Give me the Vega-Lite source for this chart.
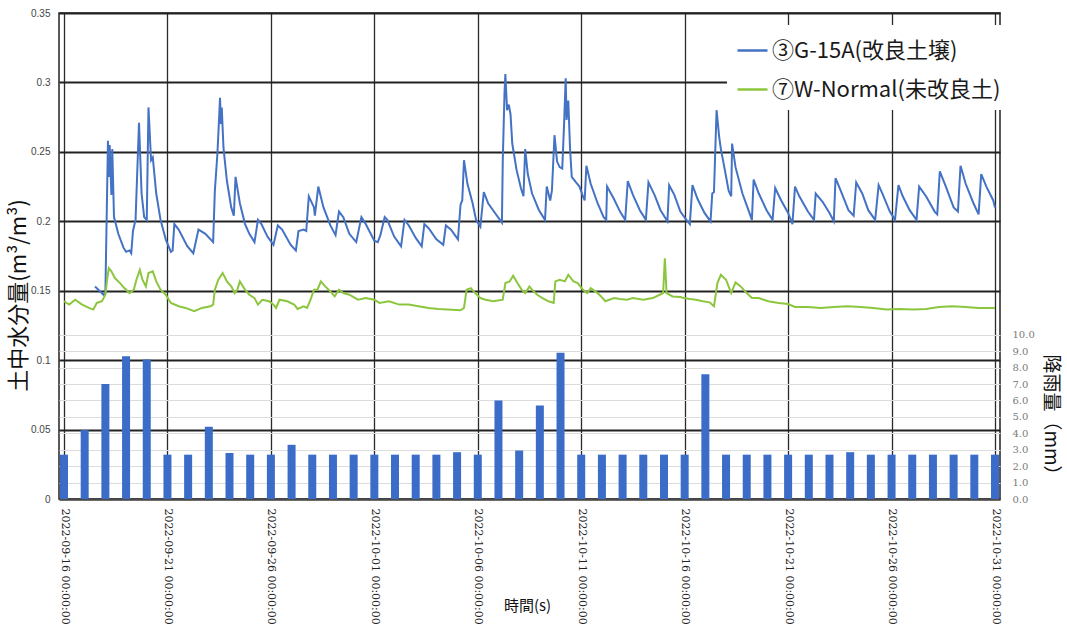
{
  "$schema": "https://vega.github.io/schema/vega-lite/v6.json",
  "width": 941,
  "height": 486,
  "autosize": {"type": "none"},
  "padding": {"left": 59, "top": 13, "right": 67, "bottom": 128},
  "background": "white",
  "config": {
    "view": {"stroke": "#222", "strokeWidth": 1.5},
    "axis": {"ticks": false, "domain": false, "labelFlush": false, "labelOverlap": false, "labelBound": false}
  },
  "datasets": {
    "rain": [
      {"t": "2022-09-16T00:00", "mm": 2.7}, {"t": "2022-09-17T00:00", "mm": 4.2},
      {"t": "2022-09-18T00:00", "mm": 7.0}, {"t": "2022-09-19T00:00", "mm": 8.7},
      {"t": "2022-09-20T00:00", "mm": 8.5}, {"t": "2022-09-21T00:00", "mm": 2.7},
      {"t": "2022-09-22T00:00", "mm": 2.7}, {"t": "2022-09-23T00:00", "mm": 4.4},
      {"t": "2022-09-24T00:00", "mm": 2.8}, {"t": "2022-09-25T00:00", "mm": 2.7},
      {"t": "2022-09-26T00:00", "mm": 2.7}, {"t": "2022-09-27T00:00", "mm": 3.3},
      {"t": "2022-09-28T00:00", "mm": 2.7}, {"t": "2022-09-29T00:00", "mm": 2.7},
      {"t": "2022-09-30T00:00", "mm": 2.7}, {"t": "2022-10-01T00:00", "mm": 2.7},
      {"t": "2022-10-02T00:00", "mm": 2.7}, {"t": "2022-10-03T00:00", "mm": 2.7},
      {"t": "2022-10-04T00:00", "mm": 2.7}, {"t": "2022-10-05T00:00", "mm": 2.85},
      {"t": "2022-10-06T00:00", "mm": 2.7}, {"t": "2022-10-07T00:00", "mm": 6.0},
      {"t": "2022-10-08T00:00", "mm": 2.95}, {"t": "2022-10-09T00:00", "mm": 5.7},
      {"t": "2022-10-10T00:00", "mm": 8.9}, {"t": "2022-10-11T00:00", "mm": 2.7},
      {"t": "2022-10-12T00:00", "mm": 2.7}, {"t": "2022-10-13T00:00", "mm": 2.7},
      {"t": "2022-10-14T00:00", "mm": 2.7}, {"t": "2022-10-15T00:00", "mm": 2.7},
      {"t": "2022-10-16T00:00", "mm": 2.7}, {"t": "2022-10-17T00:00", "mm": 7.6},
      {"t": "2022-10-18T00:00", "mm": 2.7}, {"t": "2022-10-19T00:00", "mm": 2.7},
      {"t": "2022-10-20T00:00", "mm": 2.7}, {"t": "2022-10-21T00:00", "mm": 2.7},
      {"t": "2022-10-22T00:00", "mm": 2.7}, {"t": "2022-10-23T00:00", "mm": 2.7},
      {"t": "2022-10-24T00:00", "mm": 2.85}, {"t": "2022-10-25T00:00", "mm": 2.7},
      {"t": "2022-10-26T00:00", "mm": 2.7}, {"t": "2022-10-27T00:00", "mm": 2.7},
      {"t": "2022-10-28T00:00", "mm": 2.7}, {"t": "2022-10-29T00:00", "mm": 2.7},
      {"t": "2022-10-30T00:00", "mm": 2.7}, {"t": "2022-10-31T00:00", "mm": 2.7}
    ],
    "g15a": [
      {"t": "2022-09-17T12:00", "v": 0.153}, {"t": "2022-09-17T22:00", "v": 0.147},
      {"t": "2022-09-18T00:00", "v": 0.148}, {"t": "2022-09-18T03:00", "v": 0.258},
      {"t": "2022-09-18T04:00", "v": 0.232}, {"t": "2022-09-18T05:00", "v": 0.255},
      {"t": "2022-09-18T07:00", "v": 0.219}, {"t": "2022-09-18T08:00", "v": 0.252},
      {"t": "2022-09-18T10:00", "v": 0.203}, {"t": "2022-09-18T15:00", "v": 0.191},
      {"t": "2022-09-18T21:00", "v": 0.181}, {"t": "2022-09-19T00:00", "v": 0.178},
      {"t": "2022-09-19T04:00", "v": 0.179}, {"t": "2022-09-19T06:00", "v": 0.177},
      {"t": "2022-09-19T08:00", "v": 0.193}, {"t": "2022-09-19T11:00", "v": 0.201},
      {"t": "2022-09-19T15:00", "v": 0.271}, {"t": "2022-09-19T18:00", "v": 0.220},
      {"t": "2022-09-19T21:00", "v": 0.203}, {"t": "2022-09-20T00:00", "v": 0.201},
      {"t": "2022-09-20T02:00", "v": 0.282}, {"t": "2022-09-20T05:00", "v": 0.244},
      {"t": "2022-09-20T07:00", "v": 0.246}, {"t": "2022-09-20T11:00", "v": 0.220},
      {"t": "2022-09-20T16:00", "v": 0.201}, {"t": "2022-09-20T22:00", "v": 0.187},
      {"t": "2022-09-21T04:00", "v": 0.178}, {"t": "2022-09-21T06:00", "v": 0.179},
      {"t": "2022-09-21T08:00", "v": 0.198}, {"t": "2022-09-21T13:00", "v": 0.194},
      {"t": "2022-09-21T23:00", "v": 0.182}, {"t": "2022-09-22T06:00", "v": 0.177},
      {"t": "2022-09-22T12:00", "v": 0.194}, {"t": "2022-09-22T20:00", "v": 0.191},
      {"t": "2022-09-23T05:00", "v": 0.185}, {"t": "2022-09-23T07:00", "v": 0.222},
      {"t": "2022-09-23T10:00", "v": 0.249}, {"t": "2022-09-23T13:00", "v": 0.289},
      {"t": "2022-09-23T14:00", "v": 0.270}, {"t": "2022-09-23T15:00", "v": 0.282},
      {"t": "2022-09-23T17:00", "v": 0.253}, {"t": "2022-09-23T21:00", "v": 0.229},
      {"t": "2022-09-24T02:00", "v": 0.210}, {"t": "2022-09-24T05:00", "v": 0.204},
      {"t": "2022-09-24T07:00", "v": 0.232}, {"t": "2022-09-24T12:00", "v": 0.213},
      {"t": "2022-09-24T18:00", "v": 0.198}, {"t": "2022-09-24T23:00", "v": 0.191},
      {"t": "2022-09-25T05:00", "v": 0.185}, {"t": "2022-09-25T09:00", "v": 0.201},
      {"t": "2022-09-25T13:00", "v": 0.198}, {"t": "2022-09-25T20:00", "v": 0.189},
      {"t": "2022-09-26T03:00", "v": 0.183}, {"t": "2022-09-26T08:00", "v": 0.197},
      {"t": "2022-09-26T13:00", "v": 0.194}, {"t": "2022-09-26T23:00", "v": 0.183},
      {"t": "2022-09-27T05:00", "v": 0.179}, {"t": "2022-09-27T08:00", "v": 0.193},
      {"t": "2022-09-27T14:00", "v": 0.194}, {"t": "2022-09-27T17:00", "v": 0.193},
      {"t": "2022-09-27T20:00", "v": 0.218}, {"t": "2022-09-28T02:00", "v": 0.210},
      {"t": "2022-09-28T03:00", "v": 0.204}, {"t": "2022-09-28T07:00", "v": 0.225},
      {"t": "2022-09-28T13:00", "v": 0.210}, {"t": "2022-09-28T21:00", "v": 0.197},
      {"t": "2022-09-29T03:00", "v": 0.190}, {"t": "2022-09-29T07:00", "v": 0.207},
      {"t": "2022-09-29T12:00", "v": 0.203}, {"t": "2022-09-29T19:00", "v": 0.191},
      {"t": "2022-09-30T03:00", "v": 0.185}, {"t": "2022-09-30T09:00", "v": 0.203},
      {"t": "2022-09-30T14:00", "v": 0.198}, {"t": "2022-10-01T00:00", "v": 0.186},
      {"t": "2022-10-01T04:00", "v": 0.185}, {"t": "2022-10-01T07:00", "v": 0.190},
      {"t": "2022-10-01T12:00", "v": 0.203}, {"t": "2022-10-01T15:00", "v": 0.201},
      {"t": "2022-10-01T23:00", "v": 0.189}, {"t": "2022-10-02T07:00", "v": 0.182},
      {"t": "2022-10-02T11:00", "v": 0.201}, {"t": "2022-10-02T16:00", "v": 0.197},
      {"t": "2022-10-03T00:00", "v": 0.188}, {"t": "2022-10-03T07:00", "v": 0.182},
      {"t": "2022-10-03T10:00", "v": 0.198}, {"t": "2022-10-03T15:00", "v": 0.195},
      {"t": "2022-10-04T00:00", "v": 0.187}, {"t": "2022-10-04T08:00", "v": 0.183},
      {"t": "2022-10-04T11:00", "v": 0.197}, {"t": "2022-10-04T17:00", "v": 0.194},
      {"t": "2022-10-05T01:00", "v": 0.187}, {"t": "2022-10-05T04:00", "v": 0.212},
      {"t": "2022-10-05T06:00", "v": 0.215}, {"t": "2022-10-05T08:00", "v": 0.244},
      {"t": "2022-10-05T12:00", "v": 0.227}, {"t": "2022-10-05T18:00", "v": 0.213},
      {"t": "2022-10-05T22:00", "v": 0.201}, {"t": "2022-10-06T03:00", "v": 0.196},
      {"t": "2022-10-06T07:00", "v": 0.221}, {"t": "2022-10-06T12:00", "v": 0.213},
      {"t": "2022-10-06T20:00", "v": 0.206}, {"t": "2022-10-07T04:00", "v": 0.199},
      {"t": "2022-10-07T05:00", "v": 0.244}, {"t": "2022-10-07T07:00", "v": 0.292},
      {"t": "2022-10-07T08:00", "v": 0.306}, {"t": "2022-10-07T10:00", "v": 0.280},
      {"t": "2022-10-07T12:00", "v": 0.284}, {"t": "2022-10-07T14:00", "v": 0.277},
      {"t": "2022-10-07T16:00", "v": 0.256}, {"t": "2022-10-07T21:00", "v": 0.237},
      {"t": "2022-10-08T02:00", "v": 0.224}, {"t": "2022-10-08T05:00", "v": 0.218},
      {"t": "2022-10-08T07:00", "v": 0.252}, {"t": "2022-10-08T10:00", "v": 0.234},
      {"t": "2022-10-08T15:00", "v": 0.220}, {"t": "2022-10-08T23:00", "v": 0.208},
      {"t": "2022-10-09T06:00", "v": 0.201}, {"t": "2022-10-09T08:00", "v": 0.225},
      {"t": "2022-10-09T12:00", "v": 0.215}, {"t": "2022-10-09T14:00", "v": 0.222},
      {"t": "2022-10-09T17:00", "v": 0.262}, {"t": "2022-10-09T20:00", "v": 0.243},
      {"t": "2022-10-09T23:00", "v": 0.239}, {"t": "2022-10-10T02:00", "v": 0.238},
      {"t": "2022-10-10T04:00", "v": 0.268}, {"t": "2022-10-10T06:00", "v": 0.303},
      {"t": "2022-10-10T07:00", "v": 0.273}, {"t": "2022-10-10T09:00", "v": 0.287},
      {"t": "2022-10-10T11:00", "v": 0.253}, {"t": "2022-10-10T13:00", "v": 0.232},
      {"t": "2022-10-10T18:00", "v": 0.228}, {"t": "2022-10-10T22:00", "v": 0.225},
      {"t": "2022-10-11T02:00", "v": 0.218}, {"t": "2022-10-11T04:00", "v": 0.215},
      {"t": "2022-10-11T06:00", "v": 0.240}, {"t": "2022-10-11T11:00", "v": 0.227},
      {"t": "2022-10-11T19:00", "v": 0.213}, {"t": "2022-10-12T02:00", "v": 0.203},
      {"t": "2022-10-12T05:00", "v": 0.201}, {"t": "2022-10-12T06:00", "v": 0.225},
      {"t": "2022-10-12T14:00", "v": 0.216}, {"t": "2022-10-12T21:00", "v": 0.207},
      {"t": "2022-10-13T03:00", "v": 0.201}, {"t": "2022-10-13T06:00", "v": 0.229},
      {"t": "2022-10-13T12:00", "v": 0.219}, {"t": "2022-10-13T20:00", "v": 0.208},
      {"t": "2022-10-14T03:00", "v": 0.201}, {"t": "2022-10-14T06:00", "v": 0.228},
      {"t": "2022-10-14T13:00", "v": 0.219}, {"t": "2022-10-14T20:00", "v": 0.208},
      {"t": "2022-10-15T04:00", "v": 0.200}, {"t": "2022-10-15T06:00", "v": 0.226},
      {"t": "2022-10-15T12:00", "v": 0.219}, {"t": "2022-10-15T19:00", "v": 0.207},
      {"t": "2022-10-16T02:00", "v": 0.201}, {"t": "2022-10-16T06:00", "v": 0.198},
      {"t": "2022-10-16T09:00", "v": 0.226}, {"t": "2022-10-16T15:00", "v": 0.216},
      {"t": "2022-10-16T23:00", "v": 0.206}, {"t": "2022-10-17T06:00", "v": 0.200},
      {"t": "2022-10-17T08:00", "v": 0.220}, {"t": "2022-10-17T10:00", "v": 0.221},
      {"t": "2022-10-17T13:00", "v": 0.280}, {"t": "2022-10-17T16:00", "v": 0.261},
      {"t": "2022-10-17T18:00", "v": 0.252}, {"t": "2022-10-17T22:00", "v": 0.239},
      {"t": "2022-10-18T03:00", "v": 0.222}, {"t": "2022-10-18T06:00", "v": 0.218},
      {"t": "2022-10-18T07:00", "v": 0.256}, {"t": "2022-10-18T11:00", "v": 0.239},
      {"t": "2022-10-18T19:00", "v": 0.220}, {"t": "2022-10-19T02:00", "v": 0.208},
      {"t": "2022-10-19T06:00", "v": 0.201}, {"t": "2022-10-19T08:00", "v": 0.230},
      {"t": "2022-10-19T14:00", "v": 0.220}, {"t": "2022-10-19T23:00", "v": 0.208},
      {"t": "2022-10-20T06:00", "v": 0.201}, {"t": "2022-10-20T09:00", "v": 0.224},
      {"t": "2022-10-20T16:00", "v": 0.215}, {"t": "2022-10-21T00:00", "v": 0.206},
      {"t": "2022-10-21T05:00", "v": 0.198}, {"t": "2022-10-21T08:00", "v": 0.225},
      {"t": "2022-10-21T13:00", "v": 0.218}, {"t": "2022-10-21T23:00", "v": 0.207},
      {"t": "2022-10-22T06:00", "v": 0.201}, {"t": "2022-10-22T08:00", "v": 0.220},
      {"t": "2022-10-22T16:00", "v": 0.214}, {"t": "2022-10-23T00:00", "v": 0.206},
      {"t": "2022-10-23T05:00", "v": 0.200}, {"t": "2022-10-23T07:00", "v": 0.231},
      {"t": "2022-10-23T13:00", "v": 0.222}, {"t": "2022-10-23T22:00", "v": 0.208},
      {"t": "2022-10-24T04:00", "v": 0.204}, {"t": "2022-10-24T07:00", "v": 0.228},
      {"t": "2022-10-24T14:00", "v": 0.220}, {"t": "2022-10-24T21:00", "v": 0.208},
      {"t": "2022-10-25T05:00", "v": 0.201}, {"t": "2022-10-25T09:00", "v": 0.226},
      {"t": "2022-10-25T14:00", "v": 0.219}, {"t": "2022-10-25T22:00", "v": 0.207},
      {"t": "2022-10-26T04:00", "v": 0.201}, {"t": "2022-10-26T08:00", "v": 0.226},
      {"t": "2022-10-26T13:00", "v": 0.218}, {"t": "2022-10-26T21:00", "v": 0.208},
      {"t": "2022-10-27T05:00", "v": 0.201}, {"t": "2022-10-27T08:00", "v": 0.225},
      {"t": "2022-10-27T16:00", "v": 0.218}, {"t": "2022-10-28T02:00", "v": 0.207},
      {"t": "2022-10-28T05:00", "v": 0.205}, {"t": "2022-10-28T08:00", "v": 0.236},
      {"t": "2022-10-28T15:00", "v": 0.225}, {"t": "2022-10-29T00:00", "v": 0.210},
      {"t": "2022-10-29T05:00", "v": 0.207}, {"t": "2022-10-29T08:00", "v": 0.240},
      {"t": "2022-10-29T14:00", "v": 0.227}, {"t": "2022-10-29T23:00", "v": 0.213},
      {"t": "2022-10-30T05:00", "v": 0.205}, {"t": "2022-10-30T08:00", "v": 0.234},
      {"t": "2022-10-30T14:00", "v": 0.225}, {"t": "2022-10-30T22:00", "v": 0.215},
      {"t": "2022-10-31T00:00", "v": 0.210}
    ],
    "wnormal": [
      {"t": "2022-09-16T00:00", "v": 0.1424}, {"t": "2022-09-16T06:00", "v": 0.1400},
      {"t": "2022-09-16T13:00", "v": 0.1435}, {"t": "2022-09-16T21:00", "v": 0.1400},
      {"t": "2022-09-17T05:00", "v": 0.1376}, {"t": "2022-09-17T10:00", "v": 0.1364},
      {"t": "2022-09-17T14:00", "v": 0.1412}, {"t": "2022-09-17T20:00", "v": 0.1424},
      {"t": "2022-09-18T00:00", "v": 0.1471}, {"t": "2022-09-18T02:00", "v": 0.1579},
      {"t": "2022-09-18T04:00", "v": 0.1662}, {"t": "2022-09-18T07:00", "v": 0.1639},
      {"t": "2022-09-18T11:00", "v": 0.1591}, {"t": "2022-09-18T17:00", "v": 0.1555},
      {"t": "2022-09-18T22:00", "v": 0.1519}, {"t": "2022-09-19T04:00", "v": 0.1483},
      {"t": "2022-09-19T09:00", "v": 0.1507}, {"t": "2022-09-19T12:00", "v": 0.1579},
      {"t": "2022-09-19T16:00", "v": 0.1650}, {"t": "2022-09-19T19:00", "v": 0.1579},
      {"t": "2022-09-19T23:00", "v": 0.1531}, {"t": "2022-09-20T02:00", "v": 0.1627},
      {"t": "2022-09-20T07:00", "v": 0.1639}, {"t": "2022-09-20T11:00", "v": 0.1567},
      {"t": "2022-09-20T16:00", "v": 0.1507}, {"t": "2022-09-20T22:00", "v": 0.1471},
      {"t": "2022-09-21T04:00", "v": 0.1412}, {"t": "2022-09-21T13:00", "v": 0.1388},
      {"t": "2022-09-21T21:00", "v": 0.1376}, {"t": "2022-09-22T07:00", "v": 0.1352},
      {"t": "2022-09-22T16:00", "v": 0.1376}, {"t": "2022-09-23T02:00", "v": 0.1388},
      {"t": "2022-09-23T05:00", "v": 0.1400}, {"t": "2022-09-23T07:00", "v": 0.1507},
      {"t": "2022-09-23T11:00", "v": 0.1579}, {"t": "2022-09-23T16:00", "v": 0.1627},
      {"t": "2022-09-23T21:00", "v": 0.1567}, {"t": "2022-09-24T02:00", "v": 0.1531},
      {"t": "2022-09-24T06:00", "v": 0.1483}, {"t": "2022-09-24T09:00", "v": 0.1507},
      {"t": "2022-09-24T12:00", "v": 0.1567}, {"t": "2022-09-24T18:00", "v": 0.1507},
      {"t": "2022-09-24T23:00", "v": 0.1471}, {"t": "2022-09-25T05:00", "v": 0.1447},
      {"t": "2022-09-25T09:00", "v": 0.1400}, {"t": "2022-09-25T14:00", "v": 0.1435},
      {"t": "2022-09-25T22:00", "v": 0.1424}, {"t": "2022-09-26T03:00", "v": 0.1400},
      {"t": "2022-09-26T06:00", "v": 0.1376}, {"t": "2022-09-26T10:00", "v": 0.1435},
      {"t": "2022-09-26T19:00", "v": 0.1424}, {"t": "2022-09-27T03:00", "v": 0.1400},
      {"t": "2022-09-27T07:00", "v": 0.1369}, {"t": "2022-09-27T14:00", "v": 0.1388},
      {"t": "2022-09-27T18:00", "v": 0.1376}, {"t": "2022-09-27T22:00", "v": 0.1435},
      {"t": "2022-09-28T02:00", "v": 0.1507}, {"t": "2022-09-28T06:00", "v": 0.1507},
      {"t": "2022-09-28T10:00", "v": 0.1567}, {"t": "2022-09-28T15:00", "v": 0.1531},
      {"t": "2022-09-28T21:00", "v": 0.1495}, {"t": "2022-09-29T02:00", "v": 0.1459},
      {"t": "2022-09-29T07:00", "v": 0.1507}, {"t": "2022-09-29T12:00", "v": 0.1483},
      {"t": "2022-09-29T19:00", "v": 0.1471}, {"t": "2022-09-30T05:00", "v": 0.1435},
      {"t": "2022-09-30T14:00", "v": 0.1447}, {"t": "2022-10-01T00:00", "v": 0.1435},
      {"t": "2022-10-01T06:00", "v": 0.1412}, {"t": "2022-10-01T17:00", "v": 0.1424},
      {"t": "2022-10-02T05:00", "v": 0.1400}, {"t": "2022-10-02T16:00", "v": 0.1400},
      {"t": "2022-10-03T03:00", "v": 0.1388}, {"t": "2022-10-03T15:00", "v": 0.1376},
      {"t": "2022-10-04T02:00", "v": 0.1369}, {"t": "2022-10-04T13:00", "v": 0.1364},
      {"t": "2022-10-05T04:00", "v": 0.1359}, {"t": "2022-10-05T08:00", "v": 0.1376},
      {"t": "2022-10-05T11:00", "v": 0.1507}, {"t": "2022-10-05T16:00", "v": 0.1519},
      {"t": "2022-10-05T21:00", "v": 0.1483}, {"t": "2022-10-06T03:00", "v": 0.1447},
      {"t": "2022-10-06T09:00", "v": 0.1435}, {"t": "2022-10-06T18:00", "v": 0.1424},
      {"t": "2022-10-07T05:00", "v": 0.1435}, {"t": "2022-10-07T08:00", "v": 0.1555},
      {"t": "2022-10-07T13:00", "v": 0.1567}, {"t": "2022-10-07T17:00", "v": 0.1608},
      {"t": "2022-10-07T22:00", "v": 0.1555}, {"t": "2022-10-08T03:00", "v": 0.1507},
      {"t": "2022-10-08T07:00", "v": 0.1483}, {"t": "2022-10-08T12:00", "v": 0.1531},
      {"t": "2022-10-08T15:00", "v": 0.1507}, {"t": "2022-10-08T21:00", "v": 0.1471},
      {"t": "2022-10-09T03:00", "v": 0.1447}, {"t": "2022-10-09T10:00", "v": 0.1424},
      {"t": "2022-10-09T16:00", "v": 0.1412}, {"t": "2022-10-09T18:00", "v": 0.1567},
      {"t": "2022-10-09T23:00", "v": 0.1579}, {"t": "2022-10-10T05:00", "v": 0.1567},
      {"t": "2022-10-10T09:00", "v": 0.1615}, {"t": "2022-10-10T15:00", "v": 0.1567},
      {"t": "2022-10-10T20:00", "v": 0.1555}, {"t": "2022-10-11T02:00", "v": 0.1507},
      {"t": "2022-10-11T07:00", "v": 0.1483}, {"t": "2022-10-11T11:00", "v": 0.1519},
      {"t": "2022-10-11T19:00", "v": 0.1483}, {"t": "2022-10-11T23:00", "v": 0.1459},
      {"t": "2022-10-12T04:00", "v": 0.1424}, {"t": "2022-10-12T14:00", "v": 0.1447},
      {"t": "2022-10-12T21:00", "v": 0.1440}, {"t": "2022-10-13T05:00", "v": 0.1435},
      {"t": "2022-10-13T12:00", "v": 0.1447}, {"t": "2022-10-14T00:00", "v": 0.1435},
      {"t": "2022-10-14T11:00", "v": 0.1447}, {"t": "2022-10-14T19:00", "v": 0.1471},
      {"t": "2022-10-14T23:00", "v": 0.1483}, {"t": "2022-10-15T01:00", "v": 0.1734},
      {"t": "2022-10-15T03:00", "v": 0.1483}, {"t": "2022-10-15T10:00", "v": 0.1459},
      {"t": "2022-10-15T19:00", "v": 0.1455}, {"t": "2022-10-15T23:00", "v": 0.1447},
      {"t": "2022-10-16T06:00", "v": 0.1440}, {"t": "2022-10-16T13:00", "v": 0.1435},
      {"t": "2022-10-16T21:00", "v": 0.1424}, {"t": "2022-10-17T05:00", "v": 0.1416},
      {"t": "2022-10-17T10:00", "v": 0.1388}, {"t": "2022-10-17T14:00", "v": 0.1555},
      {"t": "2022-10-17T18:00", "v": 0.1615}, {"t": "2022-10-18T00:00", "v": 0.1579},
      {"t": "2022-10-18T06:00", "v": 0.1483}, {"t": "2022-10-18T11:00", "v": 0.1560},
      {"t": "2022-10-18T17:00", "v": 0.1531}, {"t": "2022-10-19T00:00", "v": 0.1483},
      {"t": "2022-10-19T06:00", "v": 0.1447}, {"t": "2022-10-19T14:00", "v": 0.1447},
      {"t": "2022-10-20T01:00", "v": 0.1424}, {"t": "2022-10-20T13:00", "v": 0.1412},
      {"t": "2022-10-21T00:00", "v": 0.1404}, {"t": "2022-10-21T08:00", "v": 0.1383},
      {"t": "2022-10-21T23:00", "v": 0.1383}, {"t": "2022-10-22T14:00", "v": 0.1376},
      {"t": "2022-10-23T05:00", "v": 0.1383}, {"t": "2022-10-23T21:00", "v": 0.1388},
      {"t": "2022-10-24T12:00", "v": 0.1383}, {"t": "2022-10-25T03:00", "v": 0.1376},
      {"t": "2022-10-25T18:00", "v": 0.1364}, {"t": "2022-10-26T10:00", "v": 0.1369},
      {"t": "2022-10-27T01:00", "v": 0.1364}, {"t": "2022-10-27T16:00", "v": 0.1369},
      {"t": "2022-10-28T07:00", "v": 0.1383}, {"t": "2022-10-28T22:00", "v": 0.1388},
      {"t": "2022-10-29T14:00", "v": 0.1383}, {"t": "2022-10-30T05:00", "v": 0.1376},
      {"t": "2022-10-31T00:00", "v": 0.1376}
    ]
  },
  "encoding": {
    "x": {
      "field": "t",
      "type": "temporal",
      "scale": {"domain": [{"year": 2022, "month": 9, "date": 16}, {"year": 2022, "month": 10, "date": 31}]},
      "axis": {
        "values": [
          {"year": 2022, "month": 9, "date": 16}, {"year": 2022, "month": 9, "date": 21},
          {"year": 2022, "month": 9, "date": 26}, {"year": 2022, "month": 10, "date": 1},
          {"year": 2022, "month": 10, "date": 6}, {"year": 2022, "month": 10, "date": 11},
          {"year": 2022, "month": 10, "date": 16}, {"year": 2022, "month": 10, "date": 21},
          {"year": 2022, "month": 10, "date": 26}, {"year": 2022, "month": 10, "date": 31}
        ],
        "format": "%Y-%m-%d %H:%M:%S",
        "labelAngle": 90,
        "labelAlign": "left",
        "labelBaseline": "middle",
        "labelPadding": 9,
        "labelFont": "DejaVu Serif",
        "labelFontSize": 11,
        "labelColor": "#222",
        "grid": true,
        "gridColor": "#2a2a2a",
        "gridWidth": 1.3,
        "domain": true,
        "domainColor": "#4a4a4a",
        "domainWidth": 1.8,
        "title": "時間(s)",
        "titleFont": "Noto Sans CJK JP",
        "titleFontSize": 15,
        "titleFontWeight": "normal",
        "titleColor": "#111",
        "titleX": 468,
        "titleY": 106,
        "titleAlign": "center",
        "titleBaseline": "middle"
      }
    }
  },
  "layer": [
    {
      "data": {"name": "rain"},
      "mark": {"type": "bar", "color": "#3A6CC8", "width": 8, "clip": true},
      "encoding": {
        "y": {
          "field": "mm",
          "type": "quantitative",
          "scale": {"domain": [0, 29.6], "nice": false},
          "axis": {
            "orient": "right",
            "values": [0, 1, 2, 3, 4, 5, 6, 7, 8, 9, 10],
            "format": ".1f",
            "labelFont": "DejaVu Serif",
            "labelFontSize": 10,
            "labelColor": "#7a7a7a",
            "labelPadding": 12,
            "grid": true,
            "gridColor": "#dcdcdc",
            "gridWidth": 1.2,
            "title": "降雨量（mm）",
            "titleFont": "Noto Sans CJK JP",
            "titleFontSize": 19,
            "titleFontWeight": "normal",
            "titleColor": "#111",
            "titleAngle": 90,
            "titleX": 50,
            "titleY": 406,
            "titleAlign": "center",
            "titleBaseline": "middle"
          }
        }
      }
    },
    {
      "encoding": {
        "y": {
          "field": "v",
          "type": "quantitative",
          "scale": {"domain": [0, 0.35], "nice": false},
          "axis": {
            "orient": "left",
            "values": [0, 0.05, 0.1, 0.15, 0.2, 0.25, 0.3, 0.35],
            "format": "~g",
            "labelFont": "Liberation Sans",
            "labelFontSize": 10,
            "labelColor": "#444",
            "labelPadding": 9,
            "grid": true,
            "gridColor": "#222",
            "gridWidth": 1.8,
            "title": "土中水分量(m³/m³)",
            "titleFont": "Noto Sans CJK JP",
            "titleFontSize": 22,
            "titleFontWeight": "normal",
            "titleColor": "#111",
            "titleAngle": 270,
            "titleX": -41,
            "titleY": 282,
            "titleAlign": "center",
            "titleBaseline": "middle"
          }
        }
      },
      "layer": [
        {
          "data": {"name": "g15a"},
          "mark": {"type": "line", "strokeWidth": 2, "clip": true},
          "encoding": {
            "color": {
              "datum": "③G-15A(改良土壌)",
              "type": "nominal",
              "scale": {"domain": ["③G-15A(改良土壌)", "⑦W-Normal(未改良土)"], "range": ["#4472C4", "#8CC63E"]},
              "legend": {
                "orient": "none",
                "legendX": 668,
                "legendY": 12,
                "title": null,
                "fillColor": "white",
                "padding": 9,
                "symbolType": "stroke",
                "symbolSize": 900,
                "symbolStrokeWidth": 2.5,
                "labelFont": "Noto Sans CJK JP",
                "labelFontSize": 22,
                "labelColor": "#1a1a1a",
                "labelLimit": 400,
                "labelOffset": 3,
                "rowPadding": 11
              }
            }
          }
        },
        {
          "data": {"name": "wnormal"},
          "mark": {"type": "line", "strokeWidth": 2, "clip": true},
          "encoding": {
            "color": {"datum": "⑦W-Normal(未改良土)", "type": "nominal"}
          }
        }
      ]
    }
  ],
  "resolve": {"scale": {"y": "independent"}}
}
